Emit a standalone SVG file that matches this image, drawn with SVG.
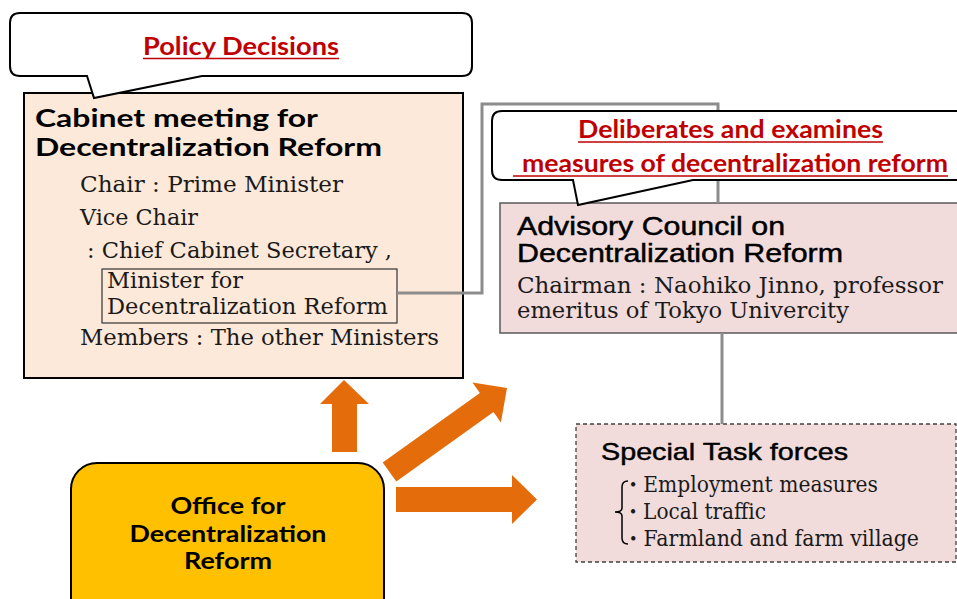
<svg xmlns="http://www.w3.org/2000/svg" width="957" height="599" viewBox="0 0 957 599">
<style>
.title{font-family:Lato,"Open Sans",sans-serif;font-weight:700;fill:#000}
.red{font-family:Lato,"Open Sans",sans-serif;font-weight:700;fill:#c00000;font-size:24px}
.ul{stroke:#c00000;stroke-width:1.6}
.serif{font-family:"DejaVu Serif","Noto Sans CJK JP",serif;font-size:21.5px;fill:#1a1a1a}
.sans{font-family:"Liberation Sans",Arial,sans-serif;fill:#000;stroke:#000;stroke-width:0.45}
.callout{fill:#fff;stroke:#000;stroke-width:2}
.conn{fill:none;stroke:#8c8c8c;stroke-width:3}
.arrow{fill:#e46c0a}
</style>

<g id="cabinet">
  <rect x="24" y="93" width="439" height="285" fill="#fde9d9" stroke="#000" stroke-width="2"/>
  <text class="title" x="35" y="127" font-size="25" textLength="283" lengthAdjust="spacingAndGlyphs">Cabinet meeting for</text>
  <text class="title" x="35" y="156" font-size="25" textLength="347" lengthAdjust="spacingAndGlyphs">Decentralization Reform</text>
  <text class="serif" x="80" y="192" textLength="263" lengthAdjust="spacingAndGlyphs">Chair : Prime Minister</text>
  <text class="serif" x="80" y="225" textLength="118" lengthAdjust="spacingAndGlyphs">Vice Chair</text>
  <text class="serif" x="87" y="258" textLength="305" lengthAdjust="spacingAndGlyphs">: Chief Cabinet Secretary ,</text>
  <rect x="102" y="269" width="295" height="54" fill="none" stroke="#333" stroke-width="1.2"/>
  <text class="serif" x="107" y="288" textLength="136" lengthAdjust="spacingAndGlyphs">Minister for</text>
  <text class="serif" x="107" y="314" textLength="281" lengthAdjust="spacingAndGlyphs">Decentralization Reform</text>
  <text class="serif" x="80" y="345" textLength="359" lengthAdjust="spacingAndGlyphs">Members : The other Ministers</text>
</g>

<g id="advisory">
  <rect x="500" y="203" width="470" height="130" fill="#f2dcdb" stroke="#595959" stroke-width="1.5"/>
  <text class="sans" x="517" y="235" font-size="25" textLength="268" lengthAdjust="spacingAndGlyphs">Advisory Council on</text>
  <text class="sans" x="517" y="262" font-size="25" textLength="326" lengthAdjust="spacingAndGlyphs">Decentralization Reform</text>
  <text class="serif" x="517" y="293" textLength="426" lengthAdjust="spacingAndGlyphs">Chairman : Naohiko Jinno, professor</text>
  <text class="serif" x="517" y="318" textLength="332" lengthAdjust="spacingAndGlyphs">emeritus of Tokyo Univercity</text>
</g>

<g id="taskforces">
  <rect x="576" y="424" width="380" height="138" fill="#f2dcdb" stroke="#404040" stroke-width="1.3" stroke-dasharray="4 3"/>
  <text class="sans" x="601" y="460" font-size="24" textLength="247" lengthAdjust="spacingAndGlyphs">Special Task forces</text>
  <path d="M628,481 Q622,481 622,487 L622,508 Q622,512 615,512 Q622,512 622,516 L622,538 Q622,544 628,544" fill="none" stroke="#000" stroke-width="1.5"/>
  <text class="serif" x="623" y="492" textLength="255" lengthAdjust="spacingAndGlyphs">・Employment measures</text>
  <text class="serif" x="623" y="519" textLength="143" lengthAdjust="spacingAndGlyphs">・Local traffic</text>
  <text class="serif" x="623" y="546" textLength="296" lengthAdjust="spacingAndGlyphs">・Farmland and farm village</text>
</g>

<g id="connectors">
  <path class="conn" d="M397,293 H482 V104 H718 V203"/>
  <path class="conn" d="M722,333 V424"/>
  <polygon class="arrow" points="332,452 332,404 320,404 344,380 369,404 357,404 357,452"/>
  <polygon class="arrow" points="382.7,462.5 479.9,393 472.5,382.6 507,388 500.9,422.4 493.5,412 396.3,481.5"/>
  <polygon class="arrow" points="396,487 512,487 512,475 537,499.5 512,524 512,512 396,512"/>
</g>

<g id="policy-callout">
  <path class="callout" d="M20,13 H462 Q472,13 472,23 V66 Q472,76 462,76 H202 L94,98 L87,76 H20 Q10,76 10,66 V23 Q10,13 20,13 Z"/>
  <text class="red" x="143" y="55" textLength="196" lengthAdjust="spacingAndGlyphs">Policy Decisions</text>
  <line class="ul" x1="143" y1="58.5" x2="339" y2="58.5"/>
</g>

<g id="advisory-callout">
  <path class="callout" d="M502,111 H975 V180 H693 L578,205 L573,180 H502 Q492,180 492,170 V121 Q492,111 502,111 Z"/>
  <text class="red" x="578" y="138" textLength="305" lengthAdjust="spacingAndGlyphs">Deliberates and examines</text>
  <line class="ul" x1="578" y1="142" x2="883" y2="142"/>
  <text class="red" x="522" y="172" textLength="426" lengthAdjust="spacingAndGlyphs">measures of decentralization reform</text>
  <line class="ul" x1="513" y1="176" x2="948" y2="176"/>
</g>

<g id="office">
  <rect x="71" y="463" width="313" height="170" rx="26" fill="#ffc000" stroke="#000" stroke-width="2"/>
  <text class="title" x="228" y="514" font-size="23" text-anchor="middle" textLength="115" lengthAdjust="spacingAndGlyphs">Office for</text>
  <text class="title" x="228" y="542" font-size="23" text-anchor="middle" textLength="197" lengthAdjust="spacingAndGlyphs">Decentralization</text>
  <text class="title" x="228" y="569" font-size="23" text-anchor="middle" textLength="88" lengthAdjust="spacingAndGlyphs">Reform</text>
</g>
</svg>
